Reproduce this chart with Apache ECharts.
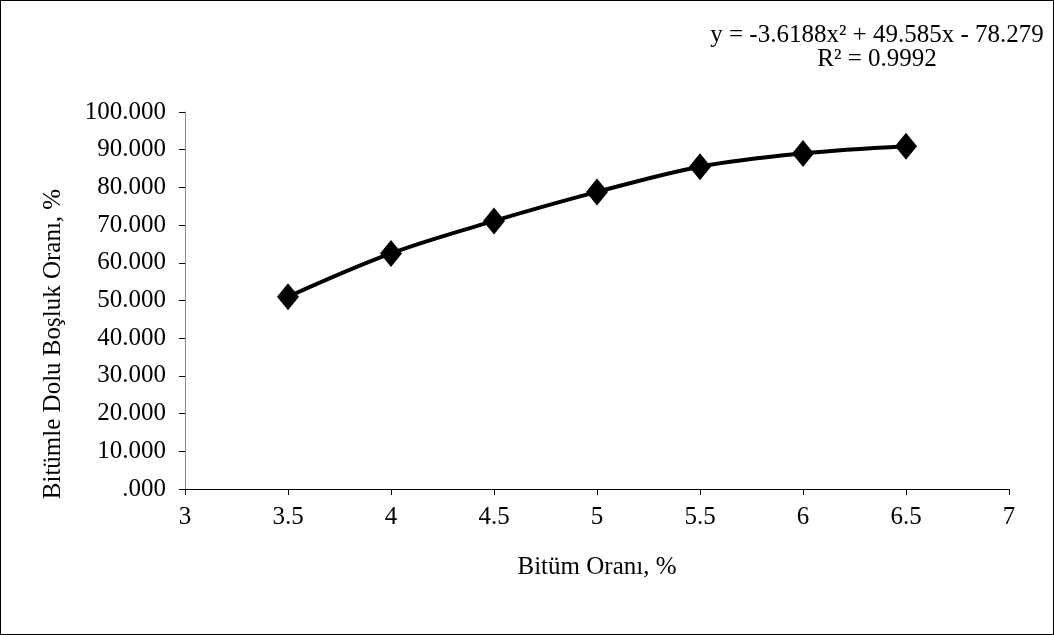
<!DOCTYPE html>
<html><head><meta charset="utf-8">
<script src="https://cdn.jsdelivr.net/npm/echarts@6/dist/echarts.min.js"></script>
<style>html,body{margin:0;padding:0;background:#fff}#c{width:1054px;height:635px;box-sizing:border-box;border:1px solid #000}</style>
</head><body><div id="c"></div>
<script>
const xValues = [3.5, 4, 4.5, 5, 5.5, 6, 6.5];
const yValues = [51.0, 62.5, 71.1, 78.8, 85.5, 89.0, 90.9];
const equationText = 'y = -3.6188x\u00B2 + 49.585x - 78.279';
const r2Text = 'R\u00B2 = 0.9992';
const xTitle = 'Bitüm Oranı, %';
const yTitle = 'Bitümle Dolu Boşluk Oranı, %';

const font = 'Liberation Serif';
const chart = echarts.init(document.getElementById('c'), null, {renderer: 'canvas'});
chart.setOption({
  animation: false,
  backgroundColor: '#fff',
  grid: {left: 184, right: 44, top: 111, bottom: 145},
  xAxis: {
    type: 'value', min: 3, max: 7, interval: 0.5,
    name: xTitle, nameLocation: 'middle', nameGap: 66,
    nameTextStyle: {fontFamily: font, fontSize: 25, color: '#000'},
    axisLine: {show: true, onZero: false, lineStyle: {color: '#000', width: 1}},
    axisTick: {show: true, length: 6, lineStyle: {color: '#000'}},
    axisLabel: {fontFamily: font, fontSize: 25, color: '#000', margin: 16},
    splitLine: {show: false}
  },
  yAxis: {
    type: 'value', min: 0, max: 100, interval: 10,
    axisLine: {show: true, lineStyle: {color: '#888', width: 1}},
    axisTick: {show: true, length: 6, lineStyle: {color: '#000'}},
    axisLabel: {fontFamily: font, fontSize: 25, color: '#000', margin: 19,
      formatter: v => (v === 0 ? '.000' : v.toFixed(3))},
    splitLine: {show: false}
  },
  series: [{
    type: 'line',
    data: xValues.map((x, i) => [x, yValues[i]]),
    smooth: 0.35,
    symbol: 'diamond',
    symbolSize: [22, 27],
    itemStyle: {color: '#000'},
    lineStyle: {color: '#000', width: 4}
  }],
  graphic: [
    {type: 'text', x: 876, y: 34, style: {text: equationText, font: '25px "Liberation Serif"', fill: '#000', textAlign: 'center', textVerticalAlign: 'middle'}},
    {type: 'text', x: 876, y: 58, style: {text: r2Text, font: '25px "Liberation Serif"', fill: '#000', textAlign: 'center', textVerticalAlign: 'middle'}},
    {type: 'text', x: 52, y: 343, rotation: Math.PI / 2, style: {text: yTitle, font: '25px "Liberation Serif"', fill: '#000', textAlign: 'center', textVerticalAlign: 'middle'}}
  ]
});
</script></body></html>
